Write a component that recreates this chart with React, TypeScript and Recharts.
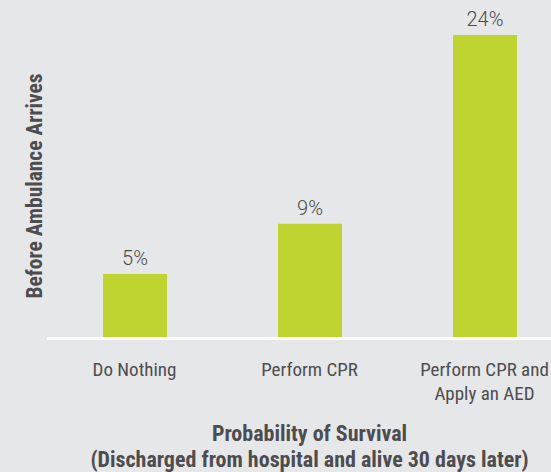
import React from "react"
import { BarChart, Bar, XAxis, YAxis, LabelList, Label } from "recharts"

const categories = ["Do Nothing", "Perform CPR", "Perform CPR and\nApply an AED"]
const survival = [5, 9, 24]
const valueLabels = ["5%", "9%", "24%"]
const yTitle = "Before Ambulance Arrives"
const xTitle = ["Probability of Survival", "(Discharged from hospital and alive 30 days later)"]

const data = categories.map((c, i) => ({ name: c, value: survival[i], label: valueLabels[i] }))

const narrow = "'Liberation Sans Narrow', 'Roboto Condensed', 'Arial Narrow', sans-serif"
const textColor = "#4d4d4f"

const W = 572
const H = 472
const TOP = 35
const LEFT = 47
const XAXIS_H = 135
const PLOT_BOTTOM = H - XAXIS_H

// category labels, split on "\n" into lines
function CategoryTick(props: any) {
    const { x, payload } = props
    const lines = String(payload.value).split("\n")
    return (
        <g>
            {lines.map((l, i) => (
                <text key={i} x={x} y={PLOT_BOTTOM + 39 + i * 24} textAnchor="middle" fill={textColor} fontFamily={narrow} fontSize={19}>
                    {l}
                </text>
            ))}
        </g>
    )
}

function XTitle() {
    const cx = LEFT + (W - LEFT) / 2
    return (
        <g>
            {xTitle.map((t, i) => (
                <text key={i} x={cx} y={PLOT_BOTTOM + 104 + i * 26} textAnchor="middle" fill={textColor} fontFamily={narrow} fontSize={22} fontWeight="bold">
                    {t}
                </text>
            ))}
        </g>
    )
}

function YTitle() {
    const cy = (TOP + PLOT_BOTTOM) / 2
    const cx = 42
    return (
        <text x={cx} y={cy} transform={`rotate(-90 ${cx} ${cy})`} textAnchor="middle" fill={textColor} fontFamily={narrow} fontSize={21.5} fontWeight="bold">
            {yTitle}
        </text>
    )
}

export default function App() {
    return (
        <div style={{ position: "absolute", top: 0, left: 0, width: 551, height: H, overflow: "hidden", background: "#e6e7e9" }}>
            <BarChart width={W} height={H} data={data} margin={{ top: TOP, right: 0, bottom: 0, left: 0 }}>
                <YAxis domain={[0, 24]} width={LEFT} axisLine={false} tickLine={false} tick={false}>
                    <Label content={<YTitle />} />
                </YAxis>
                <XAxis
                    dataKey="name"
                    height={XAXIS_H}
                    tickLine={false}
                    axisLine={{ stroke: "#ffffff", strokeWidth: 3, transform: "translate(0,1.5)" }}
                    tick={<CategoryTick />}
                    interval={0}
                >
                    <Label content={<XTitle />} />
                </XAxis>
                <Bar dataKey="value" fill="#bfd431" barSize={64} isAnimationActive={false}>
                    <LabelList dataKey="label" position="top" offset={9} fill="#4a4a4a" fontFamily="Roboto" fontWeight={300} fontSize={20} />
                </Bar>
            </BarChart>
        </div>
    )
}
